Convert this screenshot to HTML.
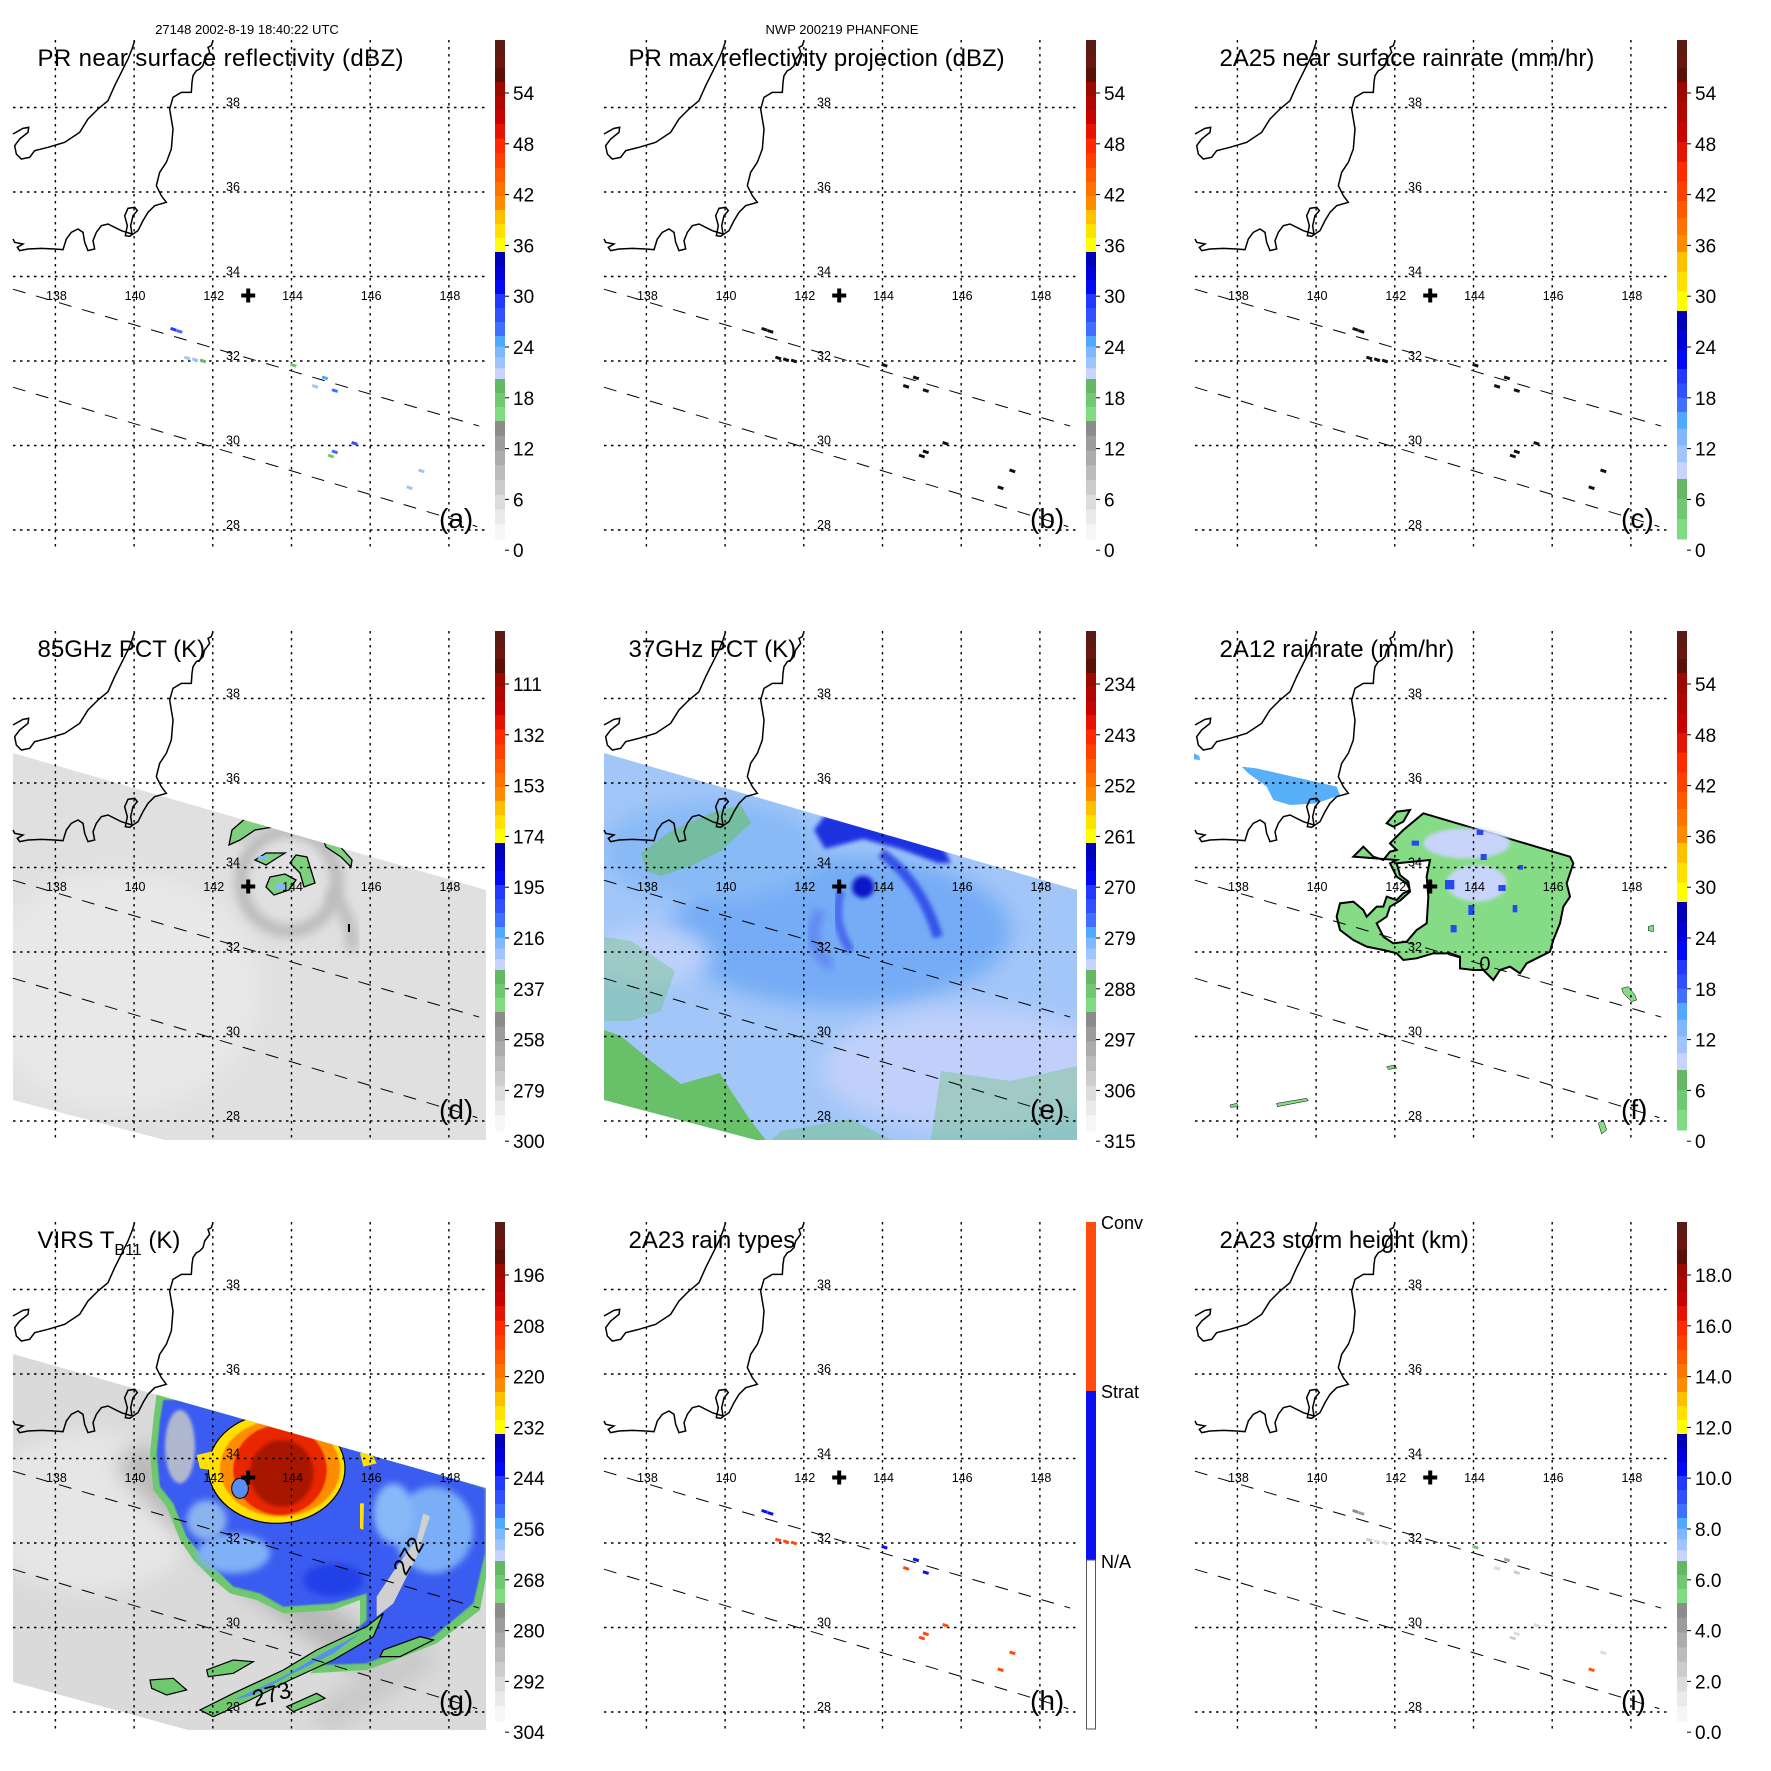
<!DOCTYPE html>
<html><head><meta charset="utf-8"><title>TRMM PHANFONE 9-panel</title>
<style>
html,body{margin:0;padding:0;background:#fff;}
svg{display:block;font-family:"Liberation Sans",sans-serif;}
</style></head>
<body>
<svg id="root" width="1771" height="1771" viewBox="0 0 1771 1771" xmlns="http://www.w3.org/2000/svg">
<defs>
 <filter id="b2" x="-20%" y="-20%" width="140%" height="140%"><feGaussianBlur stdDeviation="2"/></filter>
 <filter id="b5" x="-30%" y="-30%" width="160%" height="160%"><feGaussianBlur stdDeviation="5"/></filter>
 <filter id="b10" x="-30%" y="-30%" width="160%" height="160%"><feGaussianBlur stdDeviation="10"/></filter>
 <clipPath id="swD"><polygon points="13,162 486,299 486,549 165,549 13,509"/></clipPath>
 <clipPath id="swG"><polygon points="13,172 486,306 486,548 188,548 13,500"/></clipPath>
 <g id="coast">
  <g transform="translate(8,39) scale(0.33333)">
   <path fill="none" stroke="#000" stroke-width="1.5" vector-effect="non-scaling-stroke" d="M380,5 L372,30 L360,60 L340,100 L320,140 L300,185 L270,210 L240,240 L215,280 L170,310 L120,325 L80,335 L65,355 L40,360 L25,345 L20,320 L35,300 L60,280 L62,265 L45,268 L15,285"/>
   <path fill="none" stroke="#000" stroke-width="1.5" vector-effect="non-scaling-stroke" d="M615,5 L610,20 L600,25 L605,40 L590,60 L585,80 L575,90 L565,95 L555,110 L552,130 L550,160 L520,160 L495,175 L485,210 L495,270 L490,330 L475,370 L455,400 L445,440 L460,470 L475,490 L440,500 L420,520 L405,545 L390,575 L365,592 L352,590 L358,560 L350,530 L360,508 L380,505 L388,515 L375,530 L368,560 L372,585 L340,575 L300,555 L280,560 L265,580 L255,605 L260,630 L240,635 L230,610 L225,580 L210,570 L190,580 L175,600 L165,632 L140,630 L100,628 L60,630 L35,635 L28,625 L45,615 L20,610 L15,600"/>
  </g>
 </g>
</defs>
<rect x="0" y="0" width="1771" height="1771" fill="#fff"/>

<text x="247" y="34" font-size="13" text-anchor="middle">27148 2002-8-19 18:40:22 UTC</text>
<text x="842" y="34" font-size="13" text-anchor="middle">NWP 200219 PHANFONE</text>

<g id="p0" transform="translate(0,0)"></g>
<g id="p1" transform="translate(591,0)"></g>
<g id="p2" transform="translate(1182,0)"></g>

<!-- Panel d: 85GHz PCT -->
<g id="p3" transform="translate(0,591)">
 <g clip-path="url(#swD)">
  <rect x="0" y="0" width="500" height="560" fill="#e0e0e0"/>
  <ellipse cx="120" cy="400" rx="140" ry="120" fill="#e8e8e8" filter="url(#b10)"/>
  <ellipse cx="289" cy="290" rx="48" ry="50" fill="none" stroke="#b8b8b8" stroke-width="12" filter="url(#b5)"/>
  <path d="M330,300 Q355,330 352,360" fill="none" stroke="#bcbcbc" stroke-width="12" filter="url(#b5)"/>
  <path d="M240,250 Q260,220 330,235" fill="none" stroke="#c4c4c4" stroke-width="10" filter="url(#b5)"/>
  <g fill="#7ed07e" stroke="#000" stroke-width="1.3">
   <polygon points="232,239 247,226 262,226 285,234 255,239 240,249 229,254"/>
   <polygon points="255,269 266,262 285,262 277,267 266,274"/>
   <polygon points="270,286 285,283 296,289 289,299 274,304 266,296"/>
   <polygon points="296,264 307,266 315,292 304,296 300,282 290,272"/>
   <polygon points="322,246 337,252 352,269 351,276 341,266 326,256"/>
  </g>
  <g fill="#8ab8f0"><rect x="258" y="265" width="10" height="4"/><rect x="276" y="292" width="9" height="6"/></g>
  <rect x="348" y="333" width="2" height="8" fill="#000"/>
 </g>
</g>

<!-- Panel e: 37GHz PCT -->
<g id="p4" transform="translate(591,591)">
 <g clip-path="url(#swD)">
  <rect x="0" y="0" width="500" height="560" fill="#a2c6f8"/>
  <ellipse cx="250" cy="340" rx="170" ry="75" fill="#74acf5" filter="url(#b10)"/>
  <ellipse cx="120" cy="260" rx="110" ry="50" fill="#88baf6" filter="url(#b10)"/>
  <ellipse cx="380" cy="478" rx="150" ry="62" fill="#c0d0fa" filter="url(#b10)"/>
  <ellipse cx="60" cy="365" rx="60" ry="30" fill="#bcd0fa" filter="url(#b10)"/>
  <polygon points="223,239 234,224 300,238 347,246 360,272 347,272 309,258 272,248 234,258" fill="#1a30e0" filter="url(#b2)"/>
  <circle cx="272" cy="296" r="11" fill="#0818c8" filter="url(#b2)"/>
  <path d="M290,262 Q330,290 347,346" fill="none" stroke="#3452ea" stroke-width="10" filter="url(#b2)"/>
  <path d="M250,300 Q240,330 260,360" fill="none" stroke="#4a6cee" stroke-width="9" filter="url(#b2)"/>
  <path d="M230,320 Q210,350 240,375" fill="none" stroke="#5478f0" stroke-width="8" filter="url(#b5)"/>
  <rect x="258" y="228" width="3" height="4" fill="#ffe000"/>
  <g fill="#68c068">
   <polygon points="13,439 30,445 60,470 90,493 129,482 140,500 160,530 175,549 13,549"/>
   <polygon points="50,262 80,240 120,222 150,214 160,232 130,260 100,275 70,285 55,280" opacity="0.6"/>
   <polygon points="13,346 40,350 84,380 70,420 40,430 13,430" opacity="0.35"/>
   <polygon points="350,480 420,490 486,475 486,549 340,549" opacity="0.35"/>
   <polygon points="190,540 260,528 300,549 180,549" opacity="0.4"/>
  </g>
 </g>
</g>

<!-- Panel f: 2A12 rainrate -->
<g id="p5" transform="translate(1182,591)">
 <g transform="translate(8,39) scale(0.33333)">
  <polygon points="155,410 200,415 440,470 450,495 380,520 300,525 250,510 230,470 175,430" fill="#58b0f8"/>
  <polygon points="12,370 28,378 30,390 12,388" fill="#58b0f8"/>
  <polygon fill="#86dc86" stroke="#000" stroke-width="2" vector-effect="non-scaling-stroke" points="490,680 520,650 550,680 580,690 600,665 620,660 600,640 640,600 700,550 1140,680 1150,700 1130,760 1140,800 1120,830 1110,880 1090,930 1080,965 1040,985 1010,1000 990,1030 960,1010 930,1020 910,1050 880,1020 850,1020 810,1015 810,980 780,970 730,970 680,985 640,990 620,970 580,960 530,950 490,930 450,900 440,860 450,820 490,815 520,840 530,860 560,830 580,830 590,800 620,810 640,790 660,780 650,760 620,740 600,700 620,690"/>
  <polygon fill="#fff" stroke="#000" stroke-width="2" vector-effect="non-scaling-stroke" points="620,700 720,690 710,740 715,800 710,880 680,900 650,935 610,940 580,920 560,880 590,860 600,830 630,812 660,785 655,755 630,735"/>
  <polygon points="590,580 620,545 660,540 640,575 610,590" fill="#86dc86" stroke="#000" stroke-width="2" vector-effect="non-scaling-stroke"/>
  <ellipse cx="830" cy="640" rx="130" ry="45" fill="#c8d4fa" filter="url(#b5)"/>
  <ellipse cx="860" cy="760" rx="90" ry="55" fill="#c8d4fa" filter="url(#b5)"/>
  <g fill="#2a48f0">
   <rect x="765" y="750" width="28" height="28"/><rect x="835" y="825" width="18" height="30"/><rect x="860" y="600" width="20" height="15"/>
   <rect x="925" y="765" width="22" height="18"/><rect x="782" y="885" width="18" height="22"/><rect x="665" y="632" width="22" height="15"/>
   <rect x="872" y="672" width="18" height="18"/><rect x="985" y="705" width="14" height="14"/><rect x="968" y="825" width="14" height="22"/>
  </g>
  <text x="868" y="1022" font-size="60">0</text>
  <g fill="#86dc86" stroke="#000" stroke-width="1.5" vector-effect="non-scaling-stroke">
   <polygon points="1295,1075 1315,1070 1335,1095 1340,1110 1325,1115 1300,1090"/>
   <polygon points="1225,1480 1240,1470 1250,1500 1235,1512"/>
   <polygon points="1375,890 1390,885 1390,905 1375,902"/>
   <polygon points="590,1310 615,1305 620,1315 595,1318"/>
   <polygon points="120,1425 140,1420 145,1430 122,1432"/>
   <polygon points="260,1420 350,1405 355,1412 262,1430"/>
  </g>
 </g>
</g>

<!-- Panel g: VIRS -->
<g id="p6" transform="translate(0,1182)">
 <g clip-path="url(#swG)">
  <rect x="0" y="0" width="500" height="560" fill="#dadada"/>
  <ellipse cx="90" cy="330" rx="110" ry="80" fill="#e6e6e6" filter="url(#b10)"/>
  <path d="M130,270 Q220,380 380,480" fill="none" stroke="#b8b8b8" stroke-width="40" filter="url(#b10)"/>
  <path d="M320,540 Q380,500 430,470" fill="none" stroke="#c8c8c8" stroke-width="30" filter="url(#b10)"/>
  <g transform="translate(0,38) scale(0.33333)">
   <polygon fill="#6ec86e" points="470,520 610,520 700,560 1030,650 1470,800 1470,1010 1440,1170 1310,1270 1210,1310 1100,1350 930,1360 1080,1215 1080,1140 1000,1170 850,1180 770,1140 690,1120 630,1070 580,1020 540,960 500,860 460,810 450,700 460,600"/>
   <polygon fill="#3a5cf0" filter="url(#b2)" points="490,540 600,540 700,575 1030,665 1455,805 1455,1000 1420,1150 1300,1250 1200,1290 1100,1330 960,1335 1100,1200 1100,1120 1000,1150 850,1160 780,1120 700,1100 650,1050 600,1000 560,950 520,850 480,800 470,700 480,600"/>
   <ellipse cx="1300" cy="930" rx="120" ry="130" fill="#7aaef6" filter="url(#b10)"/>
   <ellipse cx="1180" cy="880" rx="60" ry="90" fill="#88b8f8" filter="url(#b10)"/>
   <ellipse cx="700" cy="1000" rx="110" ry="60" fill="#80b0f6" filter="url(#b10)"/>
   <ellipse cx="540" cy="680" rx="45" ry="110" fill="#b0b8d0" filter="url(#b5)"/>
   <ellipse cx="620" cy="900" rx="60" ry="60" fill="#8ab4f0" filter="url(#b10)"/>
   <ellipse cx="1000" cy="1080" rx="90" ry="50" fill="#2040e8" filter="url(#b10)"/>
   <polygon fill="#d0d0d0" points="1130,1130 1190,1040 1250,960 1270,880 1290,890 1250,1010 1180,1150 1130,1190"/>
   <polygon fill="#6ec86e" stroke="#000" stroke-width="1.2" vector-effect="non-scaling-stroke" points="600,1470 700,1420 850,1350 950,1290 1100,1220 1150,1180 1120,1250 1000,1320 870,1380 750,1440 640,1490"/>
   <polygon fill="#5a8cf2" points="700,1440 850,1370 950,1310 1080,1240 1000,1300 870,1365 760,1425"/>
   <polygon fill="#6ec86e" stroke="#000" stroke-width="1.2" vector-effect="non-scaling-stroke" points="620,1350 700,1320 760,1325 700,1360 625,1370"/>
   <polygon fill="#6ec86e" stroke="#000" stroke-width="1.2" vector-effect="non-scaling-stroke" points="450,1380 520,1375 560,1410 500,1425 455,1405"/>
   <polygon fill="#6ec86e" stroke="#000" stroke-width="1.2" vector-effect="non-scaling-stroke" points="860,1460 950,1420 975,1435 880,1475"/>
   <polygon fill="#6ec86e" stroke="#000" stroke-width="1.2" vector-effect="non-scaling-stroke" points="1150,1290 1260,1250 1300,1260 1200,1310 1140,1310"/>
   <ellipse cx="830" cy="745" rx="205" ry="165" fill="#ffe000" stroke="#000" stroke-width="1.2" vector-effect="non-scaling-stroke"/>
   <polygon fill="#ffe000" points="590,705 700,680 700,760 600,745"/>
   <polygon fill="#ffe000" points="980,760 1030,760 1020,780 980,790"/>
   <ellipse cx="840" cy="745" rx="180" ry="145" fill="#ff8c00" filter="url(#b2)"/>
   <ellipse cx="840" cy="750" rx="140" ry="135" fill="#e82800" filter="url(#b2)"/>
   <ellipse cx="845" cy="760" rx="95" ry="100" fill="#a81400" filter="url(#b5)"/>
   <ellipse cx="720" cy="805" rx="25" ry="30" fill="#5a8cf2" stroke="#000" stroke-width="1" vector-effect="non-scaling-stroke"/>
   <polygon points="1080,700 1110,690 1130,730 1090,740" fill="#ffe000"/>
   <polygon points="1080,850 1092,850 1090,930 1080,925" fill="#ffe000"/>
   <text x="1165" y="1060" font-size="70" transform="rotate(-60 1200 1020)">272</text>
   <text x="755" y="1450" font-size="70" transform="rotate(-15 800 1420)">273</text>
  </g>
 </g>
</g>

<g id="p7" transform="translate(591,1182)"></g>
<g id="p8" transform="translate(1182,1182)"></g>

<script>
var latTicks = [38, 36, 34, 32, 30, 28];
var lonTicks = [138, 140, 142, 144, 146, 148];
var stormLon = 142.9;
var stormLat = 33.55;
var prLon = [141.0, 141.15, 141.35, 141.55, 141.75, 144.05, 144.85, 145.1, 144.6, 145.6, 145.1, 145.0, 147.3, 147.0];
var prLat = [32.75, 32.70, 32.07, 32.03, 32.0, 31.9, 31.6, 31.3, 31.4, 30.05, 29.85, 29.75, 29.4, 29.0];
var prDbz = [30, 26, 22, 22, 20, 18, 24, 26, 22, 28, 26, 18, 22, 22];
var rainType = [1, 1, 2, 2, 2, 1, 1, 1, 2, 2, 2, 2, 2, 2];
var stormHt = [4.5, 4.2, 2.5, 2.0, 2.0, 6.0, 3.5, 2.5, 2.0, 2.0, 2.0, 2.5, 2.0, 14.5];
var titles = ["PR near surface reflectivity (dBZ)", "PR max reflectivity projection (dBZ)", "2A25 near surface rainrate (mm/hr)",
              "85GHz PCT (K)", "37GHz PCT (K)", "2A12 rainrate (mm/hr)", "VIRS T", "2A23 rain types", "2A23 storm height (km)"];
var letters = ["(a)", "(b)", "(c)", "(d)", "(e)", "(f)", "(g)", "(h)", "(i)"];
var cbLabelsA = ["54", "48", "42", "36", "30", "24", "18", "12", "6", "0"];
var cbLabelsD = ["111", "132", "153", "174", "195", "216", "237", "258", "279", "300"];
var cbLabelsE = ["234", "243", "252", "261", "270", "279", "288", "297", "306", "315"];
var cbLabelsG = ["196", "208", "220", "232", "244", "256", "268", "280", "292", "304"];
var cbLabelsI = ["18.0", "16.0", "14.0", "12.0", "10.0", "8.0", "6.0", "4.0", "2.0", "0.0"];
var typeLabels = ["Conv", "Strat", "N/A"];

var NS = "http://www.w3.org/2000/svg";
function xOf(lon) { return 55.4 + (lon - 138) * 39.35; }
function yOf(lat) { return 107.5 + (38 - lat) * 42.25; }
function el(tag, parent, attrs) {
  var e = document.createElementNS(NS, tag);
  for (var k in attrs) e.setAttribute(k, attrs[k]);
  parent.appendChild(e);
  return e;
}

var stdBands = [
  [40, 82, ["#5c1a14", "#6a160e", "#5a1008"]],
  [82, 124, ["#9a0a00", "#b00800", "#c80400"]],
  [124, 168, ["#e41400", "#ff2a00", "#ff4000"]],
  [168, 210, ["#ff5a00", "#ff7400", "#ff8c00"]],
  [210, 252, ["#ffc000", "#ffe000", "#ffff00"]],
  [252, 294, ["#0000b8", "#0000d8", "#0008f4"]],
  [294, 336, ["#2038ff", "#3050ff", "#4070ff"]],
  [336, 379, ["#50a8ff", "#80b8ff", "#a0c4ff", "#c8d4ff"]],
  [379, 421, ["#64b864", "#70c870", "#80dc80"]],
  [421, 539, ["#8c8c8c", "#9c9c9c", "#acacac", "#bcbcbc", "#cccccc", "#dcdcdc", "#eaeaea", "#f6f6f6"]]
];
var rainBands = [
  [40, 82, ["#5c1a14", "#6a160e", "#5a1008"]],
  [82, 142, ["#9a0a00", "#b00800", "#c80400"]],
  [142, 201, ["#e41400", "#ff2a00", "#ff4000"]],
  [201, 252, ["#ff5a00", "#ff7400", "#ff8c00"]],
  [252, 311, ["#ffc000", "#ffe000", "#ffff00"]],
  [311, 369, ["#0000b8", "#0000d8", "#0008f4"]],
  [369, 412, ["#2038ff", "#3050ff", "#4070ff"]],
  [412, 479, ["#50a8ff", "#80b8ff", "#a0c4ff", "#c8d4ff"]],
  [479, 539, ["#64b864", "#70c870", "#80dc80"]]
];
function colorAt(bands, y) {
  for (var i = 0; i < bands.length; i++) {
    var b = bands[i];
    if (y >= b[0] && y <= b[1]) {
      var n = b[2].length, idx = Math.min(n - 1, Math.floor((b[1] - y) / (b[1] - b[0]) * n));
      return b[2][n - 1 - idx];
    }
  }
  return "#000";
}
function dbzY(v) { return 550 - v * 8.47; }
function htY(v) { return 550 - v * 25.4; }

function drawColorbar(g, bands) {
  var cb = el("g", g, {});
  
  
  bands.forEach(function (b) {
    var n = b[2].length, h = (b[1] - b[0]) / n;
    for (var i = 0; i < n; i++) {
      var r = el("rect", cb, { x: 495, y: b[0] + i * h, width: 10, height: h + 0.5, fill: b[2][i] });
      
      
    }
  });
}
function drawCbLabels(g, labels) {
  labels.forEach(function (t, i) {
    var y = 93 + i * 50.8;
    var tk = el("line", g, { x1: 505, x2: 509, y1: y, y2: y, stroke: "#000", "stroke-width": 1 });
    
    
    var tx = el("text", g, { x: 513, y: y + 7, "font-size": 19 });
    
    
    tx.textContent = t;
  });
}

function decorate(idx) {
  var g = document.getElementById("p" + idx);
  var cu = el("use", g, { href: "#coast" });
  
  
  var grid = el("g", g, { stroke: "#000", "stroke-width": 1.4, "stroke-dasharray": "2.5 4.5" });
  
  
  latTicks.forEach(function (lat) {
    var l = el("line", grid, { x1: 13, x2: 486, y1: yOf(lat), y2: yOf(lat) });
    
    
  });
  lonTicks.forEach(function (lon) {
    var l = el("line", grid, { x1: xOf(lon), x2: xOf(lon), y1: 40, y2: 549 });
    
    
  });
  var sw = el("g", g, { stroke: "#000", "stroke-width": 1, "stroke-dasharray": "13 11", fill: "none" });
  
  
  var e1 = el("line", sw, { x1: xOf(136.92), y1: yOf(33.70), x2: xOf(148.77), y2: yOf(30.46) });
  
  
  var e2 = el("line", sw, { x1: xOf(136.92), y1: yOf(31.38), x2: xOf(148.72), y2: yOf(28.08) });
  
  
  latTicks.forEach(function (lat) {
    var t = el("text", g, { x: 226, y: yOf(lat) - 1, "font-size": 12.5 });
    
    
    t.textContent = lat;
  });
  lonTicks.forEach(function (lon) {
    var t = el("text", g, { x: xOf(lon) + 1, y: yOf(33.52) + 3, "font-size": 12.5, "text-anchor": "middle" });
    
    
    t.textContent = lon;
  });
  var cx = xOf(stormLon), cy = yOf(stormLat);
  var cr = el("path", g, { d: "M" + (cx - 7) + "," + (cy - 2) + "h5v-5h4v5h5v4h-5v5h-4v-5h-5z", fill: "#000" });
  
  
  var tt = el("text", g, { x: 37.5, y: 66, "font-size": 24 });
  
  
  if (idx === 6) {
    tt.textContent = titles[idx];
    var s1 = el("tspan", tt, { dy: 7, "font-size": 16 });
    s1.textContent = "B11";
    var s2 = el("tspan", tt, { dy: -7 });
    s2.textContent = " (K)";
  } else {
    tt.textContent = titles[idx];
  }
  if (idx === 0) tt.setAttribute("textLength", 366);
  var lt = el("text", g, { x: 439, y: 528, "font-size": 28 });
  
  
  lt.textContent = letters[idx];
}

function drawPixels(idx, colorFn) {
  var g = document.getElementById("p" + idx);
  var pg = el("g", g, {});
  
  
  for (var i = 0; i < prLon.length; i++) {
    var c = colorFn(i);
    if (!c) continue;
    var r = el("rect", pg, { x: xOf(prLon[i]) - 3, y: yOf(prLat[i]) - 1.5, width: 6, height: 3, fill: c,
      transform: "rotate(18 " + xOf(prLon[i]) + " " + yOf(prLat[i]) + ")" });
    
    
  }
}

for (var p = 0; p < 9; p++) decorate(p);

drawPixels(0, function (i) { return colorAt(stdBands, dbzY(prDbz[i])); });
drawPixels(1, function (i) { return "#111"; });
drawPixels(2, function (i) { return "#111"; });
drawPixels(7, function (i) { return rainType[i] === 2 ? "#ff4a10" : "#0a10f0"; });
drawPixels(8, function (i) { return colorAt(stdBands, htY(stormHt[i])); });

drawColorbar(document.getElementById("p0"), stdBands);
drawColorbar(document.getElementById("p1"), stdBands);
drawColorbar(document.getElementById("p2"), rainBands);
drawColorbar(document.getElementById("p3"), stdBands);
drawColorbar(document.getElementById("p4"), stdBands);
drawColorbar(document.getElementById("p5"), rainBands);
drawColorbar(document.getElementById("p6"), stdBands);
drawColorbar(document.getElementById("p8"), stdBands);
drawCbLabels(document.getElementById("p0"), cbLabelsA);
drawCbLabels(document.getElementById("p1"), cbLabelsA);
drawCbLabels(document.getElementById("p2"), cbLabelsA);
drawCbLabels(document.getElementById("p3"), cbLabelsD);
drawCbLabels(document.getElementById("p4"), cbLabelsE);
drawCbLabels(document.getElementById("p5"), cbLabelsA);
drawCbLabels(document.getElementById("p6"), cbLabelsG);
drawCbLabels(document.getElementById("p8"), cbLabelsI);

(function () {
  var g = document.getElementById("p7");
  var cb = el("g", g, {});
  
  
  var r1 = el("rect", cb, { x: 495, y: 40, width: 10, height: 169, fill: "#ff4a10" });
  
  
  var r2 = el("rect", cb, { x: 495, y: 209, width: 10, height: 169, fill: "#0a10f0" });
  
  
  var r3 = el("rect", cb, { x: 495.5, y: 378, width: 9, height: 169, fill: "#fff", stroke: "#555", "stroke-width": 1 });
  
  
  var ys = [47, 216, 386];
  typeLabels.forEach(function (t, i) {
    var tx = el("text", cb, { x: 510, y: ys[i], "font-size": 18 });
    
    
    tx.textContent = t;
  });
})();
</script>
</body></html>
